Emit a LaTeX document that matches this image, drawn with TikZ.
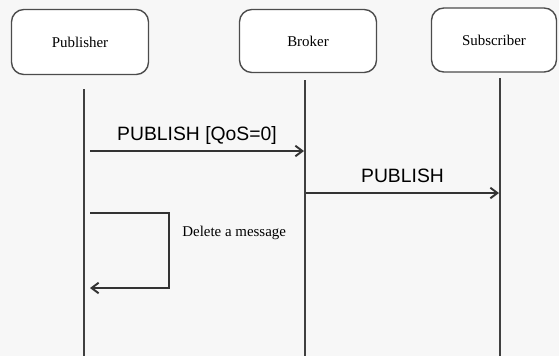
\documentclass[tikz,border=0pt]{standalone}
\usepackage{fontspec}
\setmainfont{Liberation Serif}
\newfontfamily\msgfont{Liberation Sans}
\usetikzlibrary{arrows.meta}
\tikzset{
    actor/.style={draw=black!70, line width=0.8pt, rounded corners=7pt, fill=white,
        inner sep=0pt, font=\fontsize{8.5}{10}\selectfont},
    lifeline/.style={draw=black!75, line width=1.6pt},
    msg/.style={draw=black!80, line width=1.1pt, -{Straight Barb[length=4pt,width=6pt]}},
    msglabel/.style={font=\msgfont\fontsize{11}{13}\selectfont, inner sep=0pt}
}
\begin{document}
\begin{tikzpicture}[x=0.02cm, y=-0.02cm]
    % Background
    \fill[black!3] (0,0) rectangle (559,356);
    \useasboundingbox (0,0) rectangle (559,356);
    % Actors
    \node[actor, minimum width=2.74cm, minimum height=1.3cm] (pub) at (80,42) {Publisher};
    \node[actor, minimum width=2.74cm, minimum height=1.26cm] (brk) at (308,41) {Broker};
    \node[actor, minimum width=2.5cm, minimum height=1.28cm] (sub) at (494,40) {Subscriber};
    % Lifelines
    \coordinate (pubtop) at (84,89);
    \coordinate (pubend) at (84,356);
    \coordinate (brktop) at (305,80);
    \coordinate (brkend) at (305,356);
    \coordinate (subtop) at (500,78);
    \coordinate (subend) at (500,356);
    \draw[lifeline] (pubtop) -- (pubend);
    \draw[lifeline] (brktop) -- (brkend);
    \draw[lifeline] (subtop) -- (subend);
    % Messages
    \coordinate (m1a) at (90,151);
    \coordinate (m1b) at (304,151);
    \draw[msg] (m1a) -- (m1b) node[msglabel, midway, above=3.2pt] {PUBLISH [QoS=0]};
    \coordinate (m2a) at (306,193);
    \coordinate (m2b) at (499,193);
    \draw[msg] (m2a) -- (m2b) node[msglabel, midway, above=5.5pt] {PUBLISH};
    % Self message
    \coordinate (s1) at (90,213);
    \coordinate (s2) at (169,213);
    \coordinate (s3) at (169,288);
    \coordinate (s4) at (90,288);
    \draw[msg] (s1) -- (s2) -- (s3) -- (s4);
    \node[anchor=west, font=\fontsize{8.5}{10}\selectfont, inner sep=0pt] (del) at (182,233) {Delete a message};
\end{tikzpicture}
\end{document}
